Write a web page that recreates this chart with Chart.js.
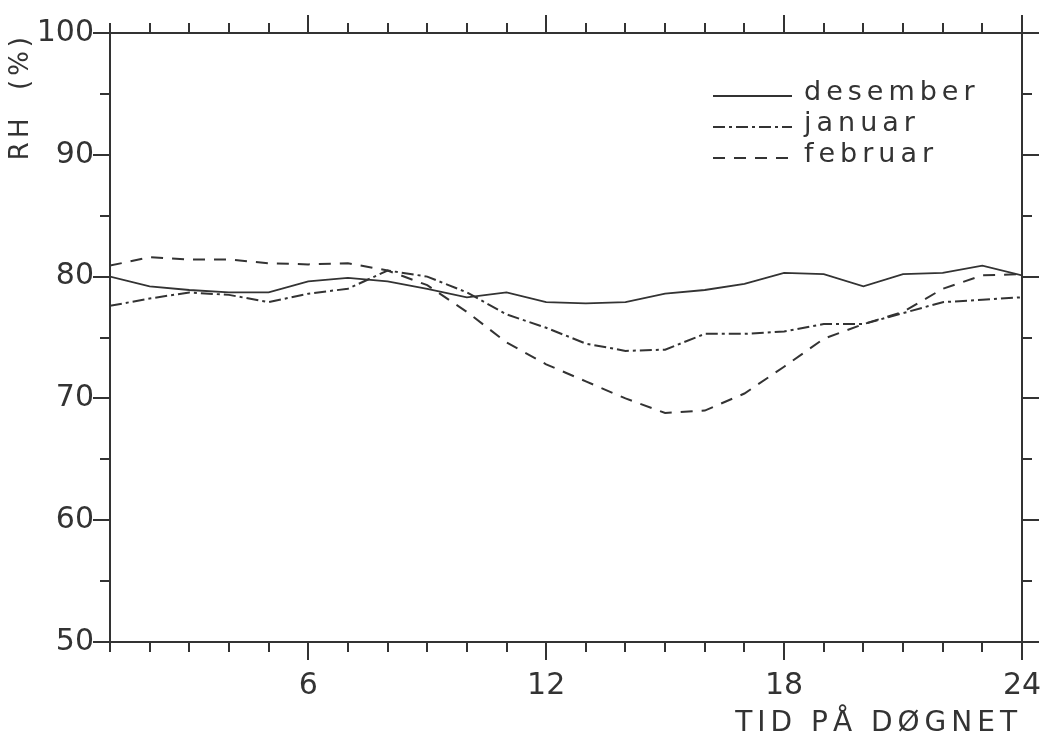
<!DOCTYPE html>
<html>
<head>
<meta charset="utf-8">
<script src="https://cdn.jsdelivr.net/npm/chart.js@4.4.0/dist/chart.umd.min.js"></script>
<style>
  html, body { margin: 0; padding: 0; background: #fff; }
</style>
</head>
<body>
<canvas id="rh" width="1043" height="743"></canvas>
<script>
// relative humidity through the day, hour 1..24
const hours = [1, 2, 3, 4, 5, 6, 7, 8, 9, 10, 11, 12, 13, 14, 15, 16, 17, 18, 19, 20, 21, 22, 23, 24];
const desember = [80.0, 79.2, 78.9, 78.7, 78.7, 79.6, 79.9, 79.6, 79.0, 78.3, 78.7, 77.9, 77.8, 77.9, 78.6, 78.9, 79.4, 80.3, 80.2, 79.2, 80.2, 80.3, 80.9, 80.1];
const januar = [77.6, 78.2, 78.7, 78.5, 77.9, 78.6, 79.0, 80.5, 80.0, 78.7, 76.9, 75.8, 74.5, 73.9, 74.0, 75.3, 75.3, 75.5, 76.1, 76.1, 77.0, 77.9, 78.1, 78.3];
const februar = [80.9, 81.6, 81.4, 81.4, 81.1, 81.0, 81.1, 80.5, 79.3, 77.1, 74.6, 72.8, 71.4, 70.0, 68.8, 69.0, 70.4, 72.6, 74.9, 76.1, 77.1, 79.0, 80.1, 80.2];
const xLabels = [6, 12, 18, 24];
const seriesNames = ["desember", "januar", "februar"];

const ink = "#333333";

// frame round the plot + outward tick marks on all four sides
const frameTicks = {
  id: "frameTicks",
  afterDraw(chart) {
    const { ctx, chartArea, scales } = chart;
    const { left, right, top, bottom } = chartArea;
    ctx.save();
    ctx.strokeStyle = ink;
    ctx.lineWidth = 2;
    ctx.strokeRect(left, top, right - left, bottom - top);
    ctx.beginPath();
    for (let h = 1; h <= 24; h++) {
      const px = Math.round(scales.x.getPixelForValue(h));
      const len = h % 6 === 0 ? 18 : 10;
      ctx.moveTo(px, bottom);
      ctx.lineTo(px, bottom + len);
      ctx.moveTo(px, top);
      ctx.lineTo(px, top - len);
    }
    for (let v = 50; v <= 100; v += 5) {
      const py = Math.round(scales.y.getPixelForValue(v));
      const len = v % 10 === 0 ? 17 : 10;
      ctx.moveTo(left - len, py);
      ctx.lineTo(left, py);
      ctx.moveTo(right, py);
      ctx.lineTo(right + len, py);
    }
    ctx.stroke();
    ctx.restore();
  },
};

// the axis titles are spaced out like the old plotter lettering
const spacedTitles = {
  id: "spacedTitles",
  afterLayout(chart) {
    const spacing = { x: "5px", y: "4px" };
    Object.keys(spacing).forEach((id) => {
      const scale = chart.scales[id];
      if (scale._spaced) return;
      const orig = scale.drawTitle.bind(scale);
      scale.drawTitle = function () {
        const ctx = this.ctx;
        ctx.save();
        ctx.letterSpacing = spacing[id];
        orig();
        ctx.restore();
      };
      scale._spaced = true;
    });
  },
};

// legend in the upper right corner of the plot, line sample then name
const plotterLegend = {
  id: "plotterLegend",
  afterDraw(chart) {
    const { ctx } = chart;
    const rows = [96, 127, 158];
    ctx.save();
    ctx.font = "27px 'DejaVu Sans'";
    ctx.letterSpacing = "5px";
    ctx.fillStyle = ink;
    ctx.textBaseline = "alphabetic";
    chart.data.datasets.forEach((ds, i) => {
      const y = rows[i];
      ctx.beginPath();
      ctx.strokeStyle = ink;
      ctx.lineWidth = 1.8;
      ctx.setLineDash(ds.borderDash || []);
      ctx.moveTo(713, y);
      ctx.lineTo(792, y);
      ctx.stroke();
      ctx.setLineDash([]);
      ctx.fillText(ds.label, 804, y + 4);
    });
    ctx.restore();
  },
};

new Chart(document.getElementById("rh"), {
  type: "line",
  data: {
    labels: hours,
    datasets: [
      {
        label: seriesNames[0],
        data: desember,
        borderColor: ink,
        borderWidth: 1.8,
        pointRadius: 0,
        tension: 0,
      },
      {
        label: seriesNames[1],
        data: januar,
        borderColor: ink,
        borderWidth: 2,
        borderDash: [12, 4, 3, 4],
        pointRadius: 0,
        tension: 0,
      },
      {
        label: seriesNames[2],
        data: februar,
        borderColor: ink,
        borderWidth: 2,
        borderDash: [12, 9],
        pointRadius: 0,
        tension: 0,
      },
    ],
  },
  options: {
    responsive: false,
    animation: false,
    layout: { padding: { top: 33, right: 21, left: 0, bottom: 0 } },
    plugins: {
      legend: { display: false },
      tooltip: { enabled: false },
    },
    scales: {
      x: {
        type: "linear",
        min: 1,
        max: 24,
        grid: { display: false, drawTicks: false },
        border: { display: false },
        afterFit: (scale) => {
          scale.height = 101;
          scale.paddingLeft = 0;
          scale.paddingRight = 0;
        },
        ticks: {
          stepSize: 1,
          autoSkip: false,
          maxRotation: 0,
          padding: 26,
          color: ink,
          font: { family: "DejaVu Sans", size: 30 },
          callback: (val) => (xLabels.includes(val) ? String(val) : ""),
        },
        title: {
          display: true,
          text: "TID PÅ DØGNET",
          align: "end",
          color: ink,
          font: { family: "DejaVu Sans", size: 28 },
          padding: { top: 0, bottom: 2 },
        },
      },
      y: {
        min: 50,
        max: 100,
        grid: { display: false, drawTicks: false },
        border: { display: false },
        afterFit: (scale) => {
          scale.width = 110;
          scale.paddingTop = 0;
          scale.paddingBottom = 0;
        },
        ticks: {
          stepSize: 10,
          padding: 16,
          color: ink,
          font: { family: "DejaVu Sans", size: 30 },
        },
        title: {
          display: true,
          text: "RH  (%)",
          align: "end",
          color: ink,
          font: { family: "DejaVu Sans", size: 26 },
          padding: { top: 6, bottom: 0 },
        },
      },
    },
  },
  plugins: [spacedTitles, frameTicks, plotterLegend],
});
</script>
</body>
</html>
